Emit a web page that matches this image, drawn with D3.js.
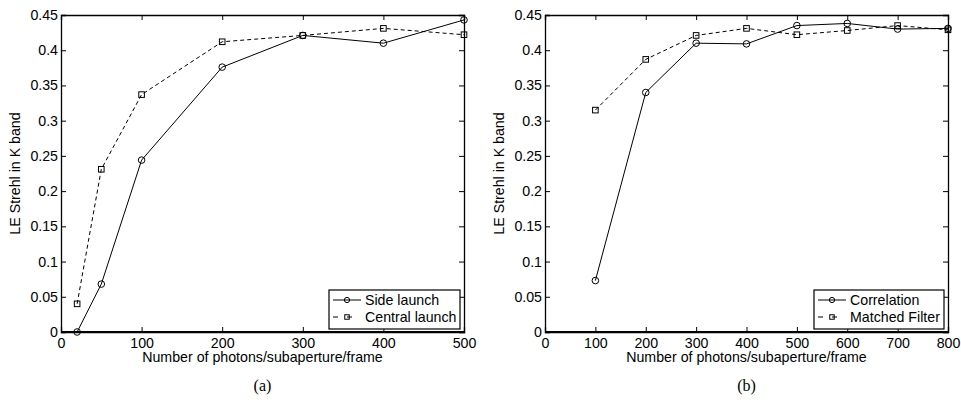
<!DOCTYPE html>
<html>
<head>
<meta charset="utf-8">
<script src="https://cdn.jsdelivr.net/npm/d3@7"></script>
<style>
  body { margin: 0; background: #fff; }
  svg text { font-family: "Liberation Sans", Arial, sans-serif; }
</style>
</head>
<body>
<svg id="chart" width="961" height="403"></svg>
<script>
// panel (a)
var xA = [20, 50, 100, 200, 300, 400, 500]
var sideLaunch = [0, 0.068, 0.244, 0.376, 0.421, 0.410, 0.443]
var centralLaunch = [0.040, 0.231, 0.337, 0.412, 0.421, 0.431, 0.422]
var xTicksA = [0, 100, 200, 300, 400, 500]

// panel (b)
var xB = [100, 200, 300, 400, 500, 600, 700, 800]
var correlation = [0.073, 0.340, 0.410, 0.409, 0.435, 0.438, 0.430, 0.431]
var matchedFilter = [0.315, 0.387, 0.421, 0.431, 0.422, 0.428, 0.435, 0.429]
var xTicksB = [0, 100, 200, 300, 400, 500, 600, 700, 800]

var yTicks = [0, 0.05, 0.1, 0.15, 0.2, 0.25, 0.3, 0.35, 0.4, 0.45]

var svg = d3.select("#chart")
var fontSize = 14.2

var panels = [
  { left: 61, right: 464, xMax: 500, x: xA, ticks: xTicksA, label: "(a)",
    series: [{ name: "Side launch", y: sideLaunch, dash: null, mark: "circle" },
             { name: "Central launch", y: centralLaunch, dash: "4,3", mark: "square" }],
    legend: { x: 329, w: 131 } }
, { left: 545, right: 948, xMax: 800, x: xB, ticks: xTicksB, label: "(b)",
    series: [{ name: "Correlation", y: correlation, dash: null, mark: "circle" },
             { name: "Matched Filter", y: matchedFilter, dash: "4,3", mark: "square" }],
    legend: { x: 814, w: 130 } }
]

var plotTop = 15, plotBottom = 332

panels.forEach(function (p) {
  var x = d3.scaleLinear().domain([0, p.xMax]).range([p.left, p.right])
  var y = d3.scaleLinear().domain([0, 0.45]).range([plotBottom, plotTop])
  var g = svg.append("g")

  // axes with inward ticks on all sides
  g.append("g").attr("transform", "translate(0," + plotBottom + ")")
    .call(d3.axisBottom(x).tickValues(p.ticks).tickSize(-5).tickPadding(6).tickFormat(d3.format("d")))
  g.append("g").attr("transform", "translate(0," + plotTop + ")")
    .call(d3.axisTop(x).tickValues(p.ticks).tickSize(-5).tickFormat(""))
  g.append("g").attr("transform", "translate(" + p.left + ",0)")
    .call(d3.axisLeft(y).tickValues(yTicks).tickSize(-5).tickPadding(3).tickFormat(function (d) { return String(+d.toFixed(2)) }))
  g.append("g").attr("transform", "translate(" + p.right + ",0)")
    .call(d3.axisRight(y).tickValues(yTicks).tickSize(-5).tickFormat(""))

  g.selectAll(".domain").attr("stroke", "#000").attr("stroke-width", 1.3)
  g.selectAll(".tick line").attr("stroke", "#000")
  g.selectAll(".tick text").attr("font-size", fontSize).attr("fill", "#000")
    .attr("font-family", "Liberation Sans, Arial, sans-serif")

  // heavier bottom axis as in original
  g.append("line").attr("x1", p.left).attr("x2", p.right).attr("y1", plotBottom).attr("y2", plotBottom)
    .attr("stroke", "#000").attr("stroke-width", 2)

  // labels
  g.append("text").attr("x", (p.left + p.right) / 2).attr("y", plotBottom + 30)
    .attr("text-anchor", "middle").attr("font-size", fontSize).text("Number of photons/subaperture/frame")
  g.append("text").attr("transform", "translate(" + (p.left - 41) + "," + ((plotTop + plotBottom) / 2) + ") rotate(-90)")
    .attr("text-anchor", "middle").attr("font-size", fontSize).text("LE Strehl in K band")
  g.append("text").attr("x", (p.left + p.right) / 2).attr("y", 391)
    .attr("text-anchor", "middle").attr("font-size", 16)
    .style("font-family", "Liberation Serif, Times New Roman, serif").text(p.label)

  var line = d3.line().x(function (d) { return x(d[0]) }).y(function (d) { return y(d[1]) })

  p.series.forEach(function (s) {
    var pts = p.x.map(function (v, i) { return [v, s.y[i]] })
    g.append("path").datum(pts).attr("d", line).attr("fill", "none")
      .attr("stroke", "#000").attr("stroke-width", 1).attr("stroke-dasharray", s.dash)
    drawMarks(g, pts.map(function (d) { return [x(d[0]), y(d[1])] }), s.mark)
  })

  // legend
  var lg = g.append("g")
  lg.append("rect").attr("x", p.legend.x).attr("y", 290).attr("width", p.legend.w).attr("height", 39)
    .attr("fill", "#fff").attr("stroke", "#000").attr("stroke-width", 1.2)
  p.series.forEach(function (s, i) {
    var ly = 300 + i * 17
    lg.append("line").attr("x1", p.legend.x + 4).attr("x2", p.legend.x + 32).attr("y1", ly).attr("y2", ly)
      .attr("stroke", "#000").attr("stroke-width", 1).attr("stroke-dasharray", s.dash ? "5,9" : null)
    drawMarks(lg, [[p.legend.x + 18, ly]], s.mark, 0.8)
    lg.append("text").attr("x", p.legend.x + 36).attr("y", ly + 5).attr("font-size", fontSize).text(s.name)
  })
})

function drawMarks (g, pts, mark, k) {
  k = k || 1
  if (mark === "circle") {
    g.selectAll(null).data(pts).enter().append("circle")
      .attr("cx", function (d) { return d[0] }).attr("cy", function (d) { return d[1] })
      .attr("r", 3.3 * k).attr("fill", "none").attr("stroke", "#000").attr("stroke-width", 1)
  } else {
    var h = 2.8 * k
    g.selectAll(null).data(pts).enter().append("rect")
      .attr("x", function (d) { return d[0] - h }).attr("y", function (d) { return d[1] - h })
      .attr("width", 2 * h).attr("height", 2 * h).attr("fill", "none").attr("stroke", "#000").attr("stroke-width", 1)
  }
}
</script>
</body>
</html>
